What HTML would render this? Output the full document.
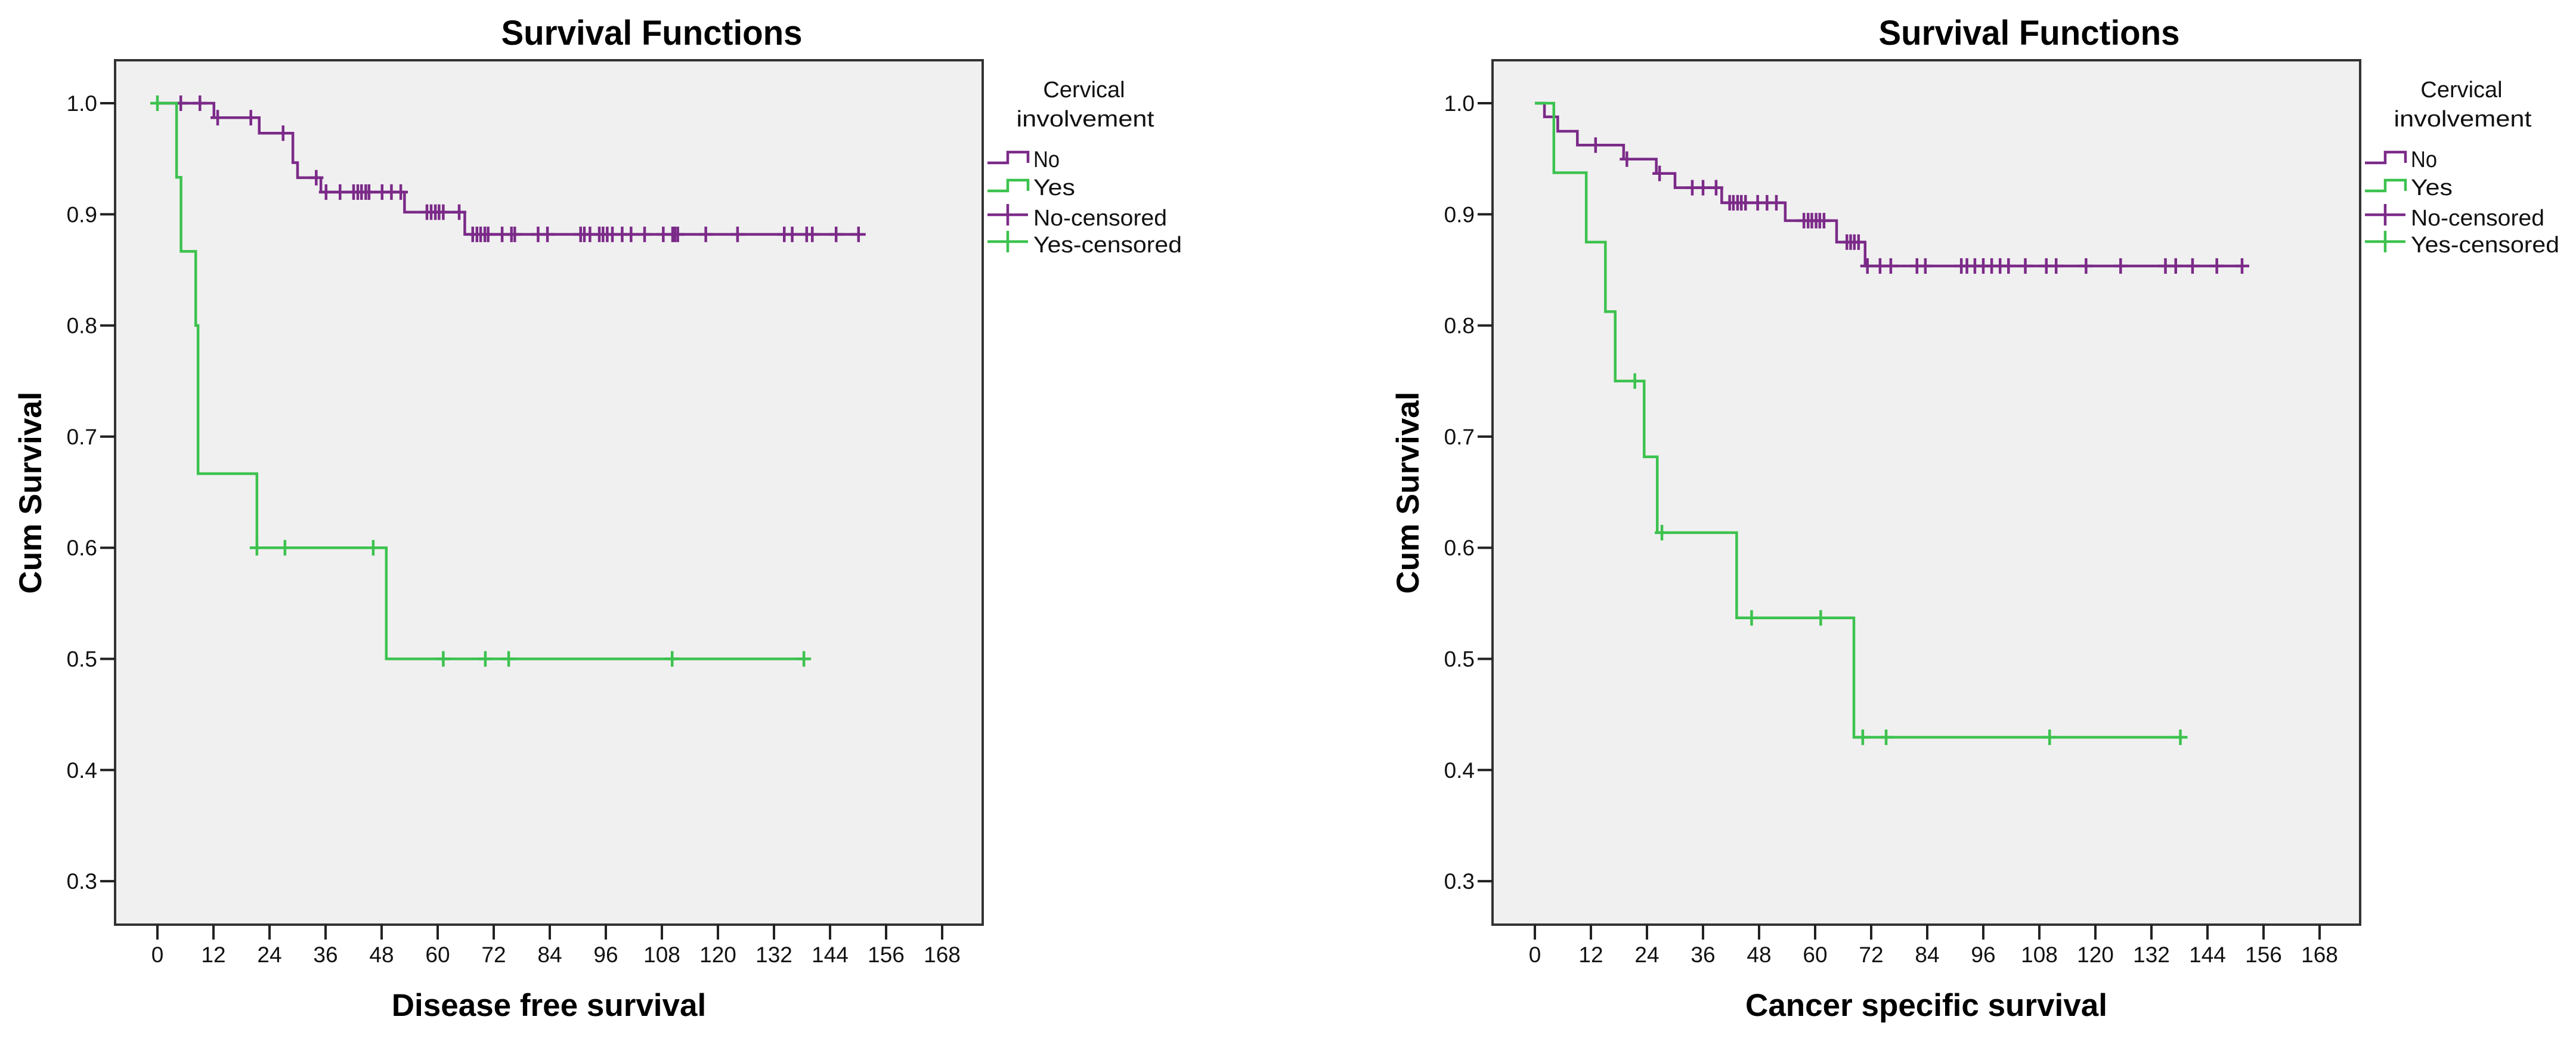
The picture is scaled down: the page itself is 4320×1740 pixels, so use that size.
<!DOCTYPE html>
<html><head><meta charset="utf-8"><title>Survival Functions</title>
<style>
html,body{margin:0;padding:0;background:#fff;}
svg{display:block;font-family:"Liberation Sans",Arial,sans-serif;}
</style></head>
<body>
<svg id="chart" width="4320" height="1740" viewBox="0 0 4320 1740" xmlns="http://www.w3.org/2000/svg"></svg>
<script>
// ---- data: tick labels ----
const xTicks = [0,12,24,36,48,60,72,84,96,108,120,132,144,156,168];
const yTicks = [0.3,0.4,0.5,0.6,0.7,0.8,0.9,1.0];

// ---- Chart 1: Disease free survival ----
const dfsNoTimes = [0,12.1,21.8,29.0,30.0,35.0,52.9,65.8];
const dfsNoSurv  = [1,0.987,0.973,0.9465,0.933,0.92,0.902,0.882];
const dfsNoCensor = [5.0,9.1,12.9,20.0,26.9,34.0,36.1,39.1,42,42.9,43.7,44.6,45.3,48.1,50.1,52.1,57.7,58.6,59.5,60.3,61.2,64.6,67.5,68.4,69.2,70.1,70.8,73.8,75.8,76.5,81.5,83.5,90.6,91.4,92.6,94.6,95.4,96.3,97.4,99.5,101.4,104.3,108.3,110.3,110.8,111.4,117.4,124.2,134.2,135.9,139,140.2,145.3,150.1];
const dfsYesTimes = [0,4.1,5.05,8.2,8.7,21.3,49];
const dfsYesSurv  = [1,0.9333,0.8667,0.8,0.6667,0.6,0.5];
const dfsYesCensor = [0,21.3,27.3,46.2,61.2,70.2,75.2,110.2,138.4];

// ---- Chart 2: Cancer specific survival ----
const cssNoTimes = [0,2.05,4.9,9.1,19.0,26.0,30.0,40.0,53.6,64.6,70.7];
const cssNoSurv  = [1,0.9877,0.9748,0.9623,0.9497,0.9368,0.924,0.9104,0.8943,0.875,0.8535];
const cssNoCensor = [13.0,19.7,26.7,33.7,36.0,38.8,41.7,42.5,43.4,44.2,45.1,47.7,49.7,51.7,57.6,58.5,59.3,60.2,61.0,61.9,66.8,67.6,68.4,69.3,71.2,73.9,76.2,81.8,83.6,91.3,92.5,94.2,96,97.8,99.6,101.4,105,109.5,111.6,118,125.4,135,137.2,140.8,146,151.4];
const cssYesTimes = [0,4.06,11.0,15.1,17.2,23.4,26.2,43.2,68.3];
const cssYesSurv  = [1,0.9375,0.875,0.8125,0.75,0.6818,0.6136,0.5369,0.4295];
const cssYesCensor = [21.4,27.2,46.4,61.2,70.2,75.2,110.2,138.2];

const NS = "http://www.w3.org/2000/svg";
const svg = document.getElementById('chart');
const PURPLE = "#7b2a88", GREEN = "#3cc24e";

function mk(tag, attrs, parent, text){
  const e = document.createElementNS(NS, tag);
  for (const k in attrs) e.setAttribute(k, attrs[k]);
  if (text !== undefined) e.textContent = text;
  (parent||svg).appendChild(e);
  return e;
}
function levelAt(times, surv, t){
  let v = surv[0];
  for (let i=0;i<times.length;i++){ if (times[i] <= t) v = surv[i]; }
  return v;
}

function drawChart(dx, xTitle, noT, noS, noC, yesT, yesS, yesC, key){
  const g = mk('g', {});
  
  
  const X = m => 264 + dx + m * 7.8333;
  const Y = v => 173 + (1 - v) * 1863;
  const L = 193 + dx, R = 1648 + dx, T = 101, B = 1550;

  const bg = mk('rect', {x:L, y:T, width:R-L, height:B-T, fill:'#f0f0f0', stroke:'#333', 'stroke-width':4}, g);
  
  

  const title = mk('text', {x:1093+dx, y:75, 'font-size':58, 'font-weight':'bold', 'text-anchor':'middle', textLength:505, lengthAdjust:'spacingAndGlyphs', fill:'#000'}, g, 'Survival Functions');
  
  

  // y ticks
  yTicks.forEach(v => {
    const tk = mk('line', {x1:L-25, x2:L, y1:Y(v), y2:Y(v), stroke:'#222', 'stroke-width':4}, g);
    
    
    const lb = mk('text', {x:L-30, y:Y(v)+13, 'font-size':37, 'text-anchor':'end', fill:'#111'}, g, v.toFixed(1));
    
    
  });
  // x ticks
  xTicks.forEach(m => {
    const tk = mk('line', {x1:X(m), x2:X(m), y1:B, y2:B+25, stroke:'#222', 'stroke-width':4}, g);
    
    
    const lb = mk('text', {x:X(m), y:1613, 'font-size':37, 'text-anchor':'middle', fill:'#111'}, g, String(m));
    
    
  });

  const xt = mk('text', {x:(L+R)/2, y:1703, 'font-size':53, 'font-weight':'bold', 'text-anchor':'middle', fill:'#000'}, g, xTitle);
  
  
  const yt = mk('text', {x:0, y:0, 'font-size':53, 'font-weight':'bold', 'text-anchor':'middle', transform:'translate(' + (69+dx) + ',826) rotate(-90)', fill:'#000'}, g, 'Cum Survival');
  
  

  function series(times, surv, cens, color, name){
    const end = Math.max(times[times.length-1], cens.length ? Math.max(...cens) : 0);
    let d = 'M' + X(times[0]) + ' ' + Y(surv[0]);
    for (let i=1;i<times.length;i++){ d += ' H' + X(times[i]) + ' V' + Y(surv[i]); }
    d += ' H' + X(end);
    const p = mk('path', {d:d, fill:'none', stroke:color, 'stroke-width':4.5}, g);
    
    
    cens.forEach(t => {
      const v = levelAt(times, surv, t);
      const c = mk('path', {d:'M' + (X(t)-12) + ' ' + Y(v) + ' H' + (X(t)+12) + ' M' + X(t) + ' ' + (Y(v)-13) + ' V' + (Y(v)+13), stroke:color, 'stroke-width':4.5, fill:'none'}, g);
      
      
    });
  }
  series(noT, noS, noC, PURPLE, 'no');
  series(yesT, yesS, yesC, GREEN, 'yes');

  // legend
  const lg = mk('g', {}, g);
  
  
  const lt1 = mk('text', {x:1818+dx, y:163, 'font-size':38, 'text-anchor':'middle', fill:'#111'}, lg, 'Cervical');
  
  
  const lt2 = mk('text', {x:1820+dx, y:212, 'font-size':38, 'text-anchor':'middle', textLength:231, lengthAdjust:'spacingAndGlyphs', fill:'#111'}, lg, 'involvement');
  
  
  const entries = [['No',280,PURPLE,'step',44],['Yes',327,GREEN,'step',70],['No-censored',378,PURPLE,'cross',224],['Yes-censored',423,GREEN,'cross',249]];
  entries.forEach(en => {
    const [label, by, col, kind, w] = en;
    let d;
    if (kind === 'step') d = 'M' + (1656+dx) + ' ' + (by-7) + ' H' + (1690+dx) + ' V' + (by-25) + ' H' + (1724+dx) + ' V' + (by-7);
    else d = 'M' + (1656+dx) + ' ' + (by-18) + ' H' + (1724+dx) + ' M' + (1690+dx) + ' ' + (by-36) + ' V' + (by);
    const s = mk('path', {d:d, stroke:col, 'stroke-width':4.5, fill:'none'}, lg);
    
    
    const t = mk('text', {x:1733+dx, y:by, 'font-size':38, textLength:w, lengthAdjust:'spacingAndGlyphs', fill:'#111'}, lg, label);
    
    
  });
}

drawChart(0, 'Disease free survival', dfsNoTimes, dfsNoSurv, dfsNoCensor, dfsYesTimes, dfsYesSurv, dfsYesCensor, 'disease-free');
drawChart(2310, 'Cancer specific survival', cssNoTimes, cssNoSurv, cssNoCensor, cssYesTimes, cssYesSurv, cssYesCensor, 'cancer-specific');
</script>
</body></html>
